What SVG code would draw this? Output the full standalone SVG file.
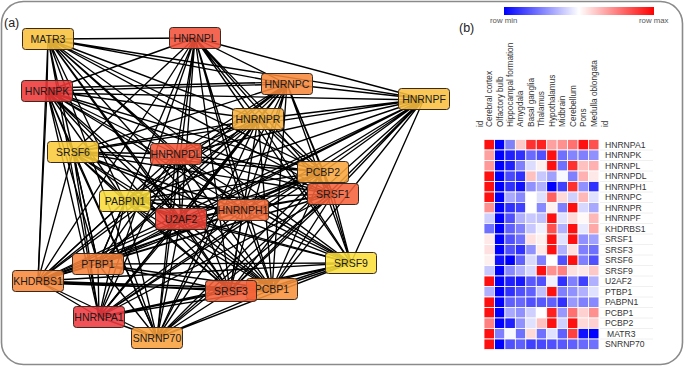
<svg xmlns="http://www.w3.org/2000/svg" width="685" height="367" viewBox="0 0 685 367">
<style>
.nd rect{stroke:#3a2a20;stroke-width:1;fill-opacity:0.88}
.nd text{font-family:"Liberation Sans",Arial,sans-serif;font-size:10.5px;fill:#1a1a1a;text-anchor:middle}
.edges path{stroke:#000;stroke-width:1.35;fill:none}
.hm rect{width:10.45px;height:10.5px;stroke:#fff;stroke-width:0.8}
.cl{font-family:"Liberation Sans",Arial,sans-serif;font-size:8.2px;fill:#333}
.rl{font-family:"Liberation Sans",Arial,sans-serif;font-size:8.6px;fill:#333}
.lg{font-family:"Liberation Sans",Arial,sans-serif;font-size:7.8px;fill:#555}
.pl{font-family:"Liberation Sans",Arial,sans-serif;font-size:12.5px;fill:#222}
</style>
<defs>
<linearGradient id="grad" x1="0" x2="1" y1="0" y2="0">
<stop offset="0" stop-color="#0000ff"/>
<stop offset="0.5" stop-color="#ffffff"/>
<stop offset="1" stop-color="#ff0000"/>
</linearGradient>
</defs>
<rect x="0" y="0" width="685" height="367" fill="#fff"/>
<rect x="1.5" y="1.5" width="681" height="363" rx="22" fill="#fff" stroke="#8a8a8a" stroke-width="1.6"/>
<text class="pl" x="4" y="27">(a)</text>
<text class="pl" x="459" y="32">(b)</text>

<g class="edges" id="connectors">
<path d="M48 39L195 38M48 39L47 91M48 39L287 84M48 39L424 99M48 39L258 119M48 39L73 152M48 39L176 154M48 39L323 172M48 39L333 194M48 39L125 201M48 39L181 219M48 39L243 210M48 39L98 264M48 39L38 281M48 39L99 317M48 39L157 338M48 39L230 291M48 39L272 289M48 39L351 263"/>
<path d="M195 38L47 91M195 38L287 84M195 38L424 99M195 38L258 119M195 38L73 152M195 38L176 154M195 38L323 172M195 38L333 194M195 38L125 201M195 38L181 219M195 38L243 210M195 38L98 264M195 38L38 281M195 38L99 317M195 38L157 338M195 38L230 291M195 38L272 289M195 38L351 263"/>
<path d="M47 91L287 84M47 93L424 100M47 91L258 119M47 91L73 152M47 91L176 154M47 91L323 172M47 91L333 194M47 91L125 201M47 91L181 219M47 91L243 210M47 91L98 264M47 91L38 281M47 91L99 317M47 91L157 338M47 91L230 291M47 91L272 289M47 91L351 263M47 88L287 82"/>
<path d="M287 84L424 99M287 84L258 119M287 84L73 152M287 84L176 154M287 84L323 172M287 84L333 194M287 84L125 201M287 84L181 219M287 84L243 210M287 84L98 264M287 84L38 281M287 84L99 317M287 84L157 338M287 84L230 291M287 84L272 289M287 84L351 263"/>
<path d="M424 99L258 119M424 99L73 152M424 99L176 154M424 99L323 172M424 99L333 194M424 99L125 201M424 99L181 219M424 99L243 210M424 99L98 264M424 99L38 281M424 99L99 317M424 99L157 338M424 99L230 291M424 99L272 289M424 99L351 263"/>
<path d="M258 119L73 152M258 119L176 154M258 119L323 172M258 119L333 194M258 119L125 201M258 119L181 219M258 119L243 210M258 119L98 264M258 119L38 281M258 119L99 317M258 119L157 338M258 119L230 291M258 119L272 289M258 119L351 263"/>
<path d="M73 152L176 154M73 152L323 172M73 152L333 194M73 152L125 201M73 152L181 219M73 152L243 210M73 152L98 264M73 152L38 281M73 152L99 317M73 152L157 338M73 152L230 291M73 152L272 289M73 152L351 263"/>
<path d="M176 154L323 172M176 154L333 194M176 154L125 201M176 154L181 219M176 154L243 210M176 154L98 264M176 154L38 281M176 154L99 317M176 154L157 338M176 154L230 291M176 154L272 289M176 154L351 263"/>
<path d="M323 172L333 194M323 172L125 201M323 172L181 219M323 172L243 210M323 172L98 264M323 172L38 281M323 172L99 317M323 172L157 338M323 172L230 291M323 172L272 289M323 172L351 263"/>
<path d="M333 194L125 201M333 194L181 219M333 194L243 210M333 194L98 264M333 194L38 281M333 194L99 317M333 194L157 338M333 194L230 291M333 194L272 289M333 194L351 263"/>
<path d="M125 201L181 219M125 201L243 210M125 201L98 264M125 201L38 281M125 201L99 317M125 201L157 338M125 201L230 291M125 201L272 289M125 201L351 263"/>
<path d="M181 219L243 210M181 219L98 264M181 219L38 281M181 219L99 317M181 219L157 338M181 219L230 291M181 219L272 289M181 219L351 263"/>
<path d="M243 210L98 264M243 210L38 281M243 210L99 317M243 210L157 338M243 210L230 291M243 210L272 289M243 210L351 263"/>
<path d="M98 264L38 281M98 264L99 317M98 264L157 338M98 264L230 291M98 264L272 289M98 264L351 263"/>
<path d="M38 281L99 317M38 281L157 338M38 281L230 291M38 281L272 289M38 281L351 263M38 283L272 291"/>
<path d="M99 317L157 338M99 317L230 291M99 317L272 289M99 317L351 263"/>
<path d="M157 338L230 291M157 338L272 289M157 338L351 263"/>
<path d="M230 291L272 289M230 291L351 263"/>
<path d="M272 289L351 263M272 287L351 261"/>
</g>

<g class="nd" id="n-MATR3"><rect x="22.5" y="28.5" width="51" height="21" rx="3" fill="#f9c13c"/><text x="48" y="42.8">MATR3</text></g>
<g class="nd" id="n-HNRNPL"><rect x="169.5" y="27.5" width="51" height="21" rx="3" fill="#f4513a"/><text x="195" y="41.8">HNRNPL</text></g>
<g class="nd" id="n-HNRNPK"><rect x="21.5" y="80.5" width="51" height="21" rx="3" fill="#ee3838"/><text x="47" y="94.8">HNRNPK</text></g>
<g class="nd" id="n-HNRNPC"><rect x="261.5" y="73.5" width="51" height="21" rx="3" fill="#f7883c"/><text x="287" y="87.8">HNRNPC</text></g>
<g class="nd" id="n-HNRNPF"><rect x="398.5" y="88.5" width="51" height="21" rx="3" fill="#fbc040"/><text x="424" y="102.8">HNRNPF</text></g>
<g class="nd" id="n-HNRNPR"><rect x="232.5" y="108.5" width="51" height="21" rx="3" fill="#f8b23e"/><text x="258" y="122.8">HNRNPR</text></g>
<g class="nd" id="n-SRSF6"><rect x="47.5" y="141.5" width="51" height="21" rx="3" fill="#f9cb3a"/><text x="73" y="155.8">SRSF6</text></g>
<g class="nd" id="n-HNRNPDL"><rect x="150.5" y="143.5" width="51" height="21" rx="3" fill="#f4563a"/><text x="176" y="157.8">HNRNPDL</text></g>
<g class="nd" id="n-PCBP2"><rect x="297.5" y="161.5" width="51" height="21" rx="3" fill="#f9a63e"/><text x="323" y="175.8">PCBP2</text></g>
<g class="nd" id="n-SRSF1"><rect x="307.5" y="183.5" width="51" height="21" rx="3" fill="#f5623a"/><text x="333" y="197.8">SRSF1</text></g>
<g class="nd" id="n-PABPN1"><rect x="99.5" y="190.5" width="51" height="21" rx="3" fill="#f8dc3a"/><text x="125" y="204.8">PABPN1</text></g>
<g class="nd" id="n-HNRNPH1"><rect x="217.5" y="199.5" width="51" height="21" rx="3" fill="#f66e3c"/><text x="243" y="213.8">HNRNPH1</text></g>
<g class="nd" id="n-U2AF2"><rect x="155.5" y="208.5" width="51" height="21" rx="3" fill="#ee4234"/><text x="181" y="222.8">U2AF2</text></g>
<g class="nd" id="n-PTBP1"><rect x="72.5" y="253.5" width="51" height="21" rx="3" fill="#f7823c"/><text x="98" y="267.8">PTBP1</text></g>
<g class="nd" id="n-KHDRBS1"><rect x="12.5" y="270.5" width="51" height="21" rx="3" fill="#f8893c"/><text x="38" y="284.8">KHDRBS1</text></g>
<g class="nd" id="n-HNRNPA1"><rect x="73.5" y="306.5" width="51" height="21" rx="3" fill="#ee3a40"/><text x="99" y="320.8">HNRNPA1</text></g>
<g class="nd" id="n-SNRNP70"><rect x="131.5" y="327.5" width="51" height="21" rx="3" fill="#f9a03c"/><text x="157" y="341.8">SNRNP70</text></g>
<g class="nd" id="n-PCBP1"><rect x="246.5" y="278.5" width="51" height="21" rx="3" fill="#f8923c"/><text x="272" y="292.8">PCBP1</text></g>
<g class="nd" id="n-SRSF3"><rect x="205.5" y="280.5" width="51" height="21" rx="3" fill="#f45e38"/><text x="231" y="294.8">SRSF3</text></g>
<g class="nd" id="n-SRSF9"><rect x="325.5" y="252.5" width="51" height="21" rx="3" fill="#fcdf3a"/><text x="351" y="266.8">SRSF9</text></g>

<g id="legend">
<rect x="504" y="7" width="150" height="8" fill="url(#grad)"/>
<text class="lg" x="490" y="23">row min</text>
<text class="lg" x="639" y="23">row max</text>
</g>

<g id="col-labels" class="cl">
<text transform="translate(480,127) rotate(-90)" dy="0.35em">id</text>
<text transform="translate(489.2,127) rotate(-90)" dy="0.35em">Cerebral cortex</text>
<text transform="translate(499.7,127) rotate(-90)" dy="0.35em">Olfactory bulb</text>
<text transform="translate(510.1,127) rotate(-90)" dy="0.35em">Hippocampal formation</text>
<text transform="translate(520.6,127) rotate(-90)" dy="0.35em">Amygdala</text>
<text transform="translate(531,127) rotate(-90)" dy="0.35em">Basal ganglia</text>
<text transform="translate(541.5,127) rotate(-90)" dy="0.35em">Thalamus</text>
<text transform="translate(551.9,127) rotate(-90)" dy="0.35em">Hypothalamus</text>
<text transform="translate(562.4,127) rotate(-90)" dy="0.35em">Midbrain</text>
<text transform="translate(572.8,127) rotate(-90)" dy="0.35em">Cerebellum</text>
<text transform="translate(583.3,127) rotate(-90)" dy="0.35em">Pons</text>
<text transform="translate(593.7,127) rotate(-90)" dy="0.35em">Medulla oblongata</text>
<text transform="translate(605.5,127) rotate(-90)" dy="0.35em">id</text>
</g>

<g id="row-sep" stroke="#ececec" stroke-width="0.8">
<line x1="600" y1="150" x2="653" y2="150"/><line x1="600" y1="160.5" x2="653" y2="160.5"/><line x1="600" y1="171" x2="653" y2="171"/><line x1="600" y1="181.5" x2="653" y2="181.5"/><line x1="600" y1="192" x2="653" y2="192"/><line x1="600" y1="202.5" x2="653" y2="202.5"/><line x1="600" y1="213" x2="653" y2="213"/><line x1="600" y1="223.5" x2="653" y2="223.5"/><line x1="600" y1="234" x2="653" y2="234"/><line x1="600" y1="244.5" x2="653" y2="244.5"/><line x1="600" y1="255" x2="653" y2="255"/><line x1="600" y1="265.5" x2="653" y2="265.5"/><line x1="600" y1="276" x2="653" y2="276"/><line x1="600" y1="286.5" x2="653" y2="286.5"/><line x1="600" y1="297" x2="653" y2="297"/><line x1="600" y1="307.5" x2="653" y2="307.5"/><line x1="600" y1="318" x2="653" y2="318"/><line x1="600" y1="328.5" x2="653" y2="328.5"/><line x1="600" y1="339" x2="653" y2="339"/>
</g>

<g class="hm" id="heatmap">
<g transform="translate(0,139.5)"><rect x="484" fill="#ff1010"/><rect x="494.45" fill="#0000ff"/><rect x="504.9" fill="#8080f8"/><rect x="515.35" fill="#ffc8c8"/><rect x="525.8" fill="#ff3030"/><rect x="536.25" fill="#ff2020"/><rect x="546.7" fill="#ffa0a0"/><rect x="557.15" fill="#ff9090"/><rect x="567.6" fill="#ff7070"/><rect x="578.05" fill="#ff1010"/><rect x="588.5" fill="#ff5050"/></g>
<g transform="translate(0,150)"><rect x="484" fill="#ffa0a0"/><rect x="494.45" fill="#0000ff"/><rect x="504.9" fill="#2020ff"/><rect x="515.35" fill="#3030ff"/><rect x="525.8" fill="#6a6aff"/><rect x="536.25" fill="#5050ff"/><rect x="546.7" fill="#ff1010"/><rect x="557.15" fill="#7070ff"/><rect x="567.6" fill="#8484ff"/><rect x="578.05" fill="#8080ff"/><rect x="588.5" fill="#9090ff"/></g>
<g transform="translate(0,160.5)"><rect x="484" fill="#ff9999"/><rect x="494.45" fill="#0000ff"/><rect x="504.9" fill="#2020ff"/><rect x="515.35" fill="#8080ff"/><rect x="525.8" fill="#dcdcff"/><rect x="536.25" fill="#fff0f0"/><rect x="546.7" fill="#ff1010"/><rect x="557.15" fill="#7070ff"/><rect x="567.6" fill="#ff3030"/><rect x="578.05" fill="#ffc0c0"/><rect x="588.5" fill="#ffb0b0"/></g>
<g transform="translate(0,171)"><rect x="484" fill="#ff1010"/><rect x="494.45" fill="#0000ff"/><rect x="504.9" fill="#4848ff"/><rect x="515.35" fill="#3030ff"/><rect x="525.8" fill="#ffc0c0"/><rect x="536.25" fill="#c8c8ff"/><rect x="546.7" fill="#a0a0ff"/><rect x="557.15" fill="#f8f8ff"/><rect x="567.6" fill="#8080ff"/><rect x="578.05" fill="#ffb0b0"/><rect x="588.5" fill="#ffe8e8"/></g>
<g transform="translate(0,181.5)"><rect x="484" fill="#ff1010"/><rect x="494.45" fill="#0000ff"/><rect x="504.9" fill="#3030ff"/><rect x="515.35" fill="#1010ff"/><rect x="525.8" fill="#9090ff"/><rect x="536.25" fill="#b0b0ff"/><rect x="546.7" fill="#0000ff"/><rect x="557.15" fill="#4040ff"/><rect x="567.6" fill="#ff3030"/><rect x="578.05" fill="#9090ff"/><rect x="588.5" fill="#3030ff"/></g>
<g transform="translate(0,192)"><rect x="484" fill="#ff1010"/><rect x="494.45" fill="#0000ff"/><rect x="504.9" fill="#a8a8ff"/><rect x="515.35" fill="#8888ff"/><rect x="525.8" fill="#ffffff"/><rect x="536.25" fill="#e0e0ff"/><rect x="546.7" fill="#ff6060"/><rect x="557.15" fill="#ffd8d8"/><rect x="567.6" fill="#d0d0ff"/><rect x="578.05" fill="#ffb8b8"/><rect x="588.5" fill="#e0e0ff"/></g>
<g transform="translate(0,202.5)"><rect x="484" fill="#ff9090"/><rect x="494.45" fill="#0000ff"/><rect x="504.9" fill="#3030ff"/><rect x="515.35" fill="#4040ff"/><rect x="525.8" fill="#ffffff"/><rect x="536.25" fill="#8888ff"/><rect x="546.7" fill="#fff0f0"/><rect x="557.15" fill="#8080ff"/><rect x="567.6" fill="#ff1010"/><rect x="578.05" fill="#d8d8ff"/><rect x="588.5" fill="#a8a8ff"/></g>
<g transform="translate(0,213)"><rect x="484" fill="#d0d0ff"/><rect x="494.45" fill="#0000ff"/><rect x="504.9" fill="#5050ff"/><rect x="515.35" fill="#b0b0ff"/><rect x="525.8" fill="#c8c8ff"/><rect x="536.25" fill="#c0c0ff"/><rect x="546.7" fill="#ff1010"/><rect x="557.15" fill="#e0e0ff"/><rect x="567.6" fill="#ffd8d8"/><rect x="578.05" fill="#fff8f8"/><rect x="588.5" fill="#ffb8b8"/></g>
<g transform="translate(0,223.5)"><rect x="484" fill="#7070ff"/><rect x="494.45" fill="#0000ff"/><rect x="504.9" fill="#6060ff"/><rect x="515.35" fill="#8080ff"/><rect x="525.8" fill="#c8c8ff"/><rect x="536.25" fill="#f0f0ff"/><rect x="546.7" fill="#ff5050"/><rect x="557.15" fill="#b0b0ff"/><rect x="567.6" fill="#ff1010"/><rect x="578.05" fill="#e8e8ff"/><rect x="588.5" fill="#ffa8a8"/></g>
<g transform="translate(0,234)"><rect x="484" fill="#ffe8e8"/><rect x="494.45" fill="#0000ff"/><rect x="504.9" fill="#5050ff"/><rect x="515.35" fill="#7070ff"/><rect x="525.8" fill="#ffe0e0"/><rect x="536.25" fill="#fff0f0"/><rect x="546.7" fill="#ff1010"/><rect x="557.15" fill="#e0e0ff"/><rect x="567.6" fill="#ff1010"/><rect x="578.05" fill="#9090ff"/><rect x="588.5" fill="#a0a0ff"/></g>
<g transform="translate(0,244.5)"><rect x="484" fill="#ffe0e0"/><rect x="494.45" fill="#0000ff"/><rect x="504.9" fill="#5050ff"/><rect x="515.35" fill="#3030ff"/><rect x="525.8" fill="#9090ff"/><rect x="536.25" fill="#ffe8e8"/><rect x="546.7" fill="#ff1010"/><rect x="557.15" fill="#b0b0ff"/><rect x="567.6" fill="#ffe0e0"/><rect x="578.05" fill="#8080ff"/><rect x="588.5" fill="#7070ff"/></g>
<g transform="translate(0,255)"><rect x="484" fill="#fff0f0"/><rect x="494.45" fill="#1010ff"/><rect x="504.9" fill="#0000ff"/><rect x="515.35" fill="#6060ff"/><rect x="525.8" fill="#d8d8ff"/><rect x="536.25" fill="#8080ff"/><rect x="546.7" fill="#ffffff"/><rect x="557.15" fill="#5050ff"/><rect x="567.6" fill="#ff1010"/><rect x="578.05" fill="#8080ff"/><rect x="588.5" fill="#5050ff"/></g>
<g transform="translate(0,265.5)"><rect x="484" fill="#c8c8ff"/><rect x="494.45" fill="#0000ff"/><rect x="504.9" fill="#8888ff"/><rect x="515.35" fill="#b0b0ff"/><rect x="525.8" fill="#d8d8ff"/><rect x="536.25" fill="#ff1010"/><rect x="546.7" fill="#ff9090"/><rect x="557.15" fill="#ff8080"/><rect x="567.6" fill="#ffe0e0"/><rect x="578.05" fill="#ffe8e8"/><rect x="588.5" fill="#ffc8c8"/></g>
<g transform="translate(0,276)"><rect x="484" fill="#ff1010"/><rect x="494.45" fill="#0000ff"/><rect x="504.9" fill="#2020ff"/><rect x="515.35" fill="#1818ff"/><rect x="525.8" fill="#5858ff"/><rect x="536.25" fill="#5050ff"/><rect x="546.7" fill="#f0f0ff"/><rect x="557.15" fill="#3030ff"/><rect x="567.6" fill="#8080ff"/><rect x="578.05" fill="#4040ff"/><rect x="588.5" fill="#b0b0ff"/></g>
<g transform="translate(0,286.5)"><rect x="484" fill="#b0b0ff"/><rect x="494.45" fill="#0000ff"/><rect x="504.9" fill="#3030ff"/><rect x="515.35" fill="#5050ff"/><rect x="525.8" fill="#6060ff"/><rect x="536.25" fill="#c0c0ff"/><rect x="546.7" fill="#ff1010"/><rect x="557.15" fill="#8080ff"/><rect x="567.6" fill="#9090ff"/><rect x="578.05" fill="#b0b0ff"/><rect x="588.5" fill="#e0e0ff"/></g>
<g transform="translate(0,297)"><rect x="484" fill="#ff1010"/><rect x="494.45" fill="#0000ff"/><rect x="504.9" fill="#6060ff"/><rect x="515.35" fill="#6868ff"/><rect x="525.8" fill="#5050ff"/><rect x="536.25" fill="#5858ff"/><rect x="546.7" fill="#6060ff"/><rect x="557.15" fill="#3030ff"/><rect x="567.6" fill="#9898ff"/><rect x="578.05" fill="#8080ff"/><rect x="588.5" fill="#8888ff"/></g>
<g transform="translate(0,307.5)"><rect x="484" fill="#ff1010"/><rect x="494.45" fill="#0000ff"/><rect x="504.9" fill="#a8a8ff"/><rect x="515.35" fill="#9090ff"/><rect x="525.8" fill="#d0d0ff"/><rect x="536.25" fill="#ffffff"/><rect x="546.7" fill="#ff2020"/><rect x="557.15" fill="#9898ff"/><rect x="567.6" fill="#ff7070"/><rect x="578.05" fill="#ffd0d0"/><rect x="588.5" fill="#ff9090"/></g>
<g transform="translate(0,318)"><rect x="484" fill="#ff8080"/><rect x="494.45" fill="#0000ff"/><rect x="504.9" fill="#2020ff"/><rect x="515.35" fill="#9090ff"/><rect x="525.8" fill="#e0e0ff"/><rect x="536.25" fill="#ffc0c0"/><rect x="546.7" fill="#ff1010"/><rect x="557.15" fill="#d0d0ff"/><rect x="567.6" fill="#ff1010"/><rect x="578.05" fill="#ffd8d8"/><rect x="588.5" fill="#ffd0d0"/></g>
<g transform="translate(0,328.5)"><rect x="484" fill="#ff1010"/><rect x="494.45" fill="#8080ff"/><rect x="504.9" fill="#f8f8ff"/><rect x="515.35" fill="#7070ff"/><rect x="525.8" fill="#ffd8d8"/><rect x="536.25" fill="#7070ff"/><rect x="546.7" fill="#e0e0ff"/><rect x="557.15" fill="#6060ff"/><rect x="567.6" fill="#ff4040"/><rect x="578.05" fill="#1010ff"/><rect x="588.5" fill="#0000ff"/></g>
<g transform="translate(0,339)"><rect x="484" fill="#ff1010"/><rect x="494.45" fill="#0000ff"/><rect x="504.9" fill="#5050ff"/><rect x="515.35" fill="#6060ff"/><rect x="525.8" fill="#4040ff"/><rect x="536.25" fill="#4848ff"/><rect x="546.7" fill="#5050ff"/><rect x="557.15" fill="#5858ff"/><rect x="567.6" fill="#6060ff"/><rect x="578.05" fill="#6868ff"/><rect x="588.5" fill="#7070ff"/></g>
</g>

<g id="row-labels" class="rl">
<text x="605" y="147.8">HNRNPA1</text>
<text x="605" y="158.3">HNRNPK</text>
<text x="605" y="168.8">HNRNPL</text>
<text x="605" y="179.3">HNRNPDL</text>
<text x="605" y="189.8">HNRNPH1</text>
<text x="605" y="200.3">HNRNPC</text>
<text x="605" y="210.8">HNRNPR</text>
<text x="605" y="221.3">HNRNPF</text>
<text x="605" y="231.8">KHDRBS1</text>
<text x="605" y="242.3">SRSF1</text>
<text x="605" y="252.8">SRSF3</text>
<text x="605" y="263.3">SRSF6</text>
<text x="605" y="273.8">SRSF9</text>
<text x="605" y="284.3">U2AF2</text>
<text x="605" y="294.8">PTBP1</text>
<text x="605" y="305.3">PABPN1</text>
<text x="605" y="315.8">PCBP1</text>
<text x="605" y="326.3">PCBP2</text>
<text x="607" y="336.8">MATR3</text>
<text x="605" y="347.3">SNRNP70</text>
</g>
</svg>
